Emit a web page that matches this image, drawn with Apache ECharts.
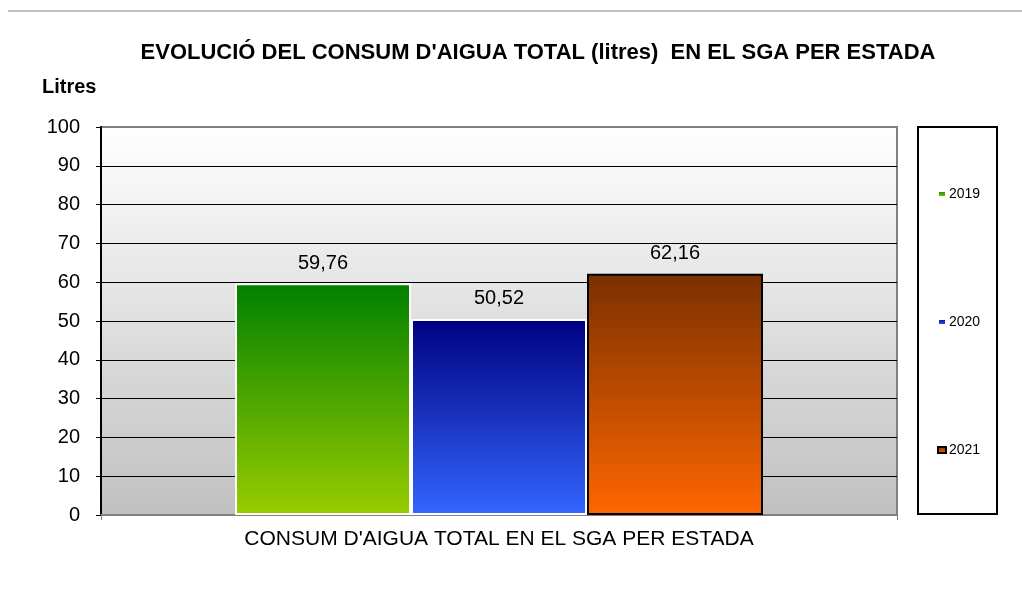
<!DOCTYPE html>
<html>
<head>
<meta charset="utf-8">
<script src="https://cdn.jsdelivr.net/npm/echarts@6/dist/echarts.min.js"></script>
<style>
  html, body { margin: 0; padding: 0; background: #fff; }
  #main { width: 1022px; height: 592px; }
</style>
</head>
<body>
<div id="main"></div>
<script>
var categories = ["CONSUM D'AIGUA TOTAL EN EL SGA PER ESTADA"];
var years = ['2019', '2020', '2021'];
var values2019 = [59.76];
var values2020 = [50.52];
var values2021 = [62.16];
var yTicks = [0, 10, 20, 30, 40, 50, 60, 70, 80, 90, 100];

var chart = echarts.init(document.getElementById('main'));
var font = 'Liberation Sans, Arial, sans-serif';

function grad(top, bottom) {
    return new echarts.graphic.LinearGradient(0, 0, 0, 1, [
        { offset: 0, color: top },
        { offset: 1, color: bottom }
    ]);
}

// etiqueta amb coma decimal
function label(p) {
    return p.value.toFixed(2).replace('.', ',');
}

var seriesData = [values2019, values2020, values2021];
var fills = [grad('#008000', '#99cc00'), grad('#000080', '#3366ff'), grad('#7a3000', '#ff6600')];
var borders = ['#ffffff', '#ffffff', '#000000'];

var series = years.map(function (y, i) {
    return {
        name: y,
        type: 'bar',
        data: seriesData[i],
        barWidth: 176,
        barGap: '0%',
        itemStyle: { color: fills[i], borderColor: borders[i], borderWidth: 2 },
        label: {
            show: true,
            position: 'top',
            distance: 10,
            formatter: label,
            fontFamily: font,
            fontSize: 20,
            color: '#000'
        }
    };
});

var splitColors = yTicks.map(function (t) { return t === 100 ? '#808080' : '#000000'; });

chart.setOption({
    animation: false,
    backgroundColor: '#ffffff',
    title: {
        text: "EVOLUCIÓ DEL CONSUM D'AIGUA TOTAL (litres)  EN EL SGA PER ESTADA",
        left: 533,
        top: 37,
        textAlign: 'center',
        textStyle: { fontFamily: font, fontSize: 22, fontWeight: 'bold', color: '#000' }
    },
    grid: {
        left: 101, right: 125, top: 127, bottom: 77,
        show: true,
        borderColor: '#808080',
        borderWidth: 2,
        backgroundColor: grad('#ffffff', '#c0c0c0')
    },
    legend: {
        orient: 'vertical',
        left: 932,
        top: 182,
        itemWidth: 8,
        itemHeight: 6,
        itemGap: 114,
        icon: 'rect',
        data: years,
        textStyle: { fontFamily: font, fontSize: 14, color: '#000', padding: [0, 0, 0, -2] }
    },
    xAxis: {
        type: 'category',
        data: categories,
        axisLine: { lineStyle: { color: '#808080', width: 2 } },
        axisTick: { show: true, length: 5, lineStyle: { color: '#808080' } },
        axisLabel: { fontFamily: font, fontSize: 21, color: '#000', margin: 14 }
    },
    yAxis: {
        type: 'value',
        min: 0,
        max: 100,
        interval: 10,
        name: 'Litres',
        nameLocation: 'end',
        nameGap: 30,
        nameTextStyle: { fontFamily: font, fontSize: 20, fontWeight: 'bold', color: '#000', align: 'left', padding: [0, 0, 0, -59] },
        axisLine: { show: true, lineStyle: { color: '#000', width: 2 } },
        axisTick: { show: true, length: 5, lineStyle: { color: '#000' } },
        axisLabel: { fontFamily: font, fontSize: 20, color: '#000', margin: 21 },
        splitLine: { lineStyle: { color: splitColors, width: 1 } }
    },
    graphic: [
        { type: 'line', shape: { x1: 8, y1: 11, x2: 1022, y2: 11 }, style: { stroke: '#808080', lineWidth: 1 }, z: 100 },
        { type: 'rect', shape: { x: 918, y: 127, width: 79, height: 387 }, style: { fill: '#ffffff', stroke: '#000000', lineWidth: 2 }, z: -1 }
    ],
    series: series
});
</script>
</body>
</html>
